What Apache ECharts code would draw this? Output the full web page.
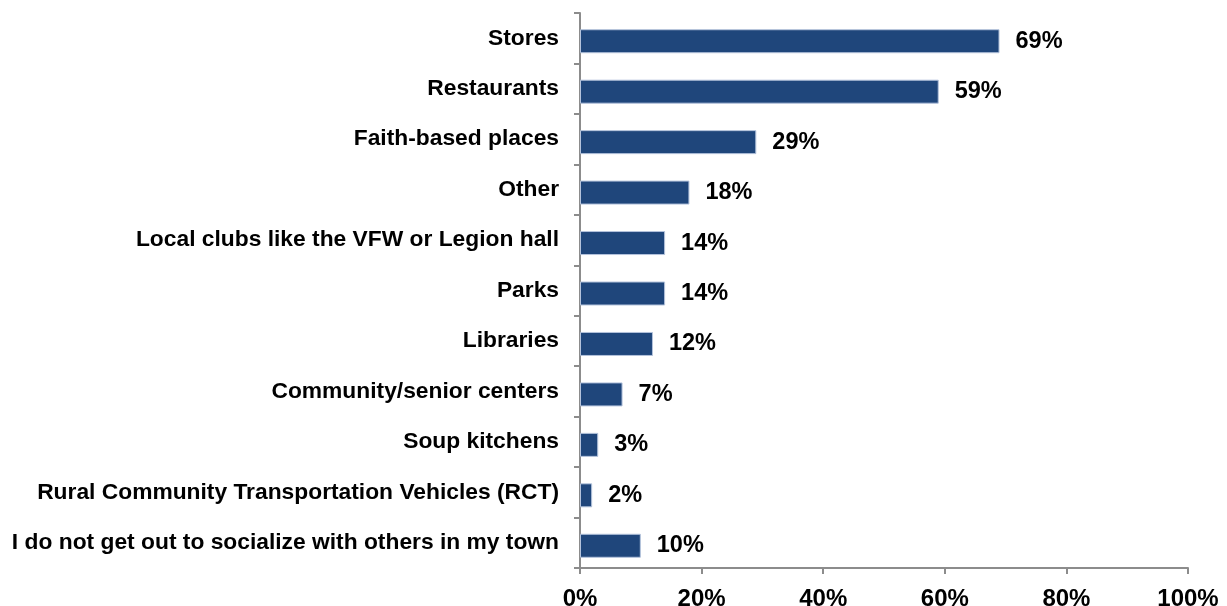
<!DOCTYPE html>
<html>
<head>
<meta charset="utf-8">
<script src="https://cdn.jsdelivr.net/npm/echarts@6/dist/echarts.min.js"></script>
<style>
  html, body { margin: 0; padding: 0; background: #fff; }
  #chart { width: 1227px; height: 606px; }
</style>
</head>
<body>
<div id="chart"></div>
<script>
// categories top to bottom
var categories = [
  'Stores',
  'Restaurants',
  'Faith-based places',
  'Other',
  'Local clubs like the VFW or Legion hall',
  'Parks',
  'Libraries',
  'Community/senior centers',
  'Soup kitchens',
  'Rural Community Transportation Vehicles (RCT)',
  'I do not get out to socialize with others in my town'
];
var percents = [69, 59, 29, 18, 14, 14, 12, 7, 3, 2, 10];
var xTicks = [0, 20, 40, 60, 80, 100];

var font = 'Arial, "Liberation Sans", sans-serif';
var axisGray = '#8c8c8c';

var myChart = echarts.init(document.getElementById('chart'));
var option = {
  animation: false,
  grid: {
    left: 580,
    right: 39,
    top: 13,
    bottom: 38,
    outerBoundsMode: 'none'
  },
  xAxis: {
    type: 'value',
    min: xTicks[0],
    max: xTicks[xTicks.length - 1],
    interval: xTicks[1] - xTicks[0],
    splitLine: { show: false },
    axisLine: { show: true, lineStyle: { color: axisGray, width: 2 } },
    axisTick: { show: true, length: 6, lineStyle: { color: axisGray, width: 2 } },
    axisLabel: {
      formatter: '{value}%',
      color: '#000',
      fontWeight: 'bold',
      fontSize: 24,
      fontFamily: font,
      margin: 19
    }
  },
  yAxis: {
    type: 'category',
    data: categories,
    inverse: true,
    axisLine: { show: true, lineStyle: { color: axisGray, width: 2 } },
    axisTick: { show: true, length: 6, lineStyle: { color: axisGray, width: 2 } },
    axisLabel: {
      color: '#000',
      fontWeight: 'bold',
      fontSize: 22.8,
      fontFamily: font,
      margin: 21,
      padding: [6, 0, 0, 0]
    }
  },
  series: [
    {
      // empty spacer so the bars sit a little below the band centre, as in the original
      type: 'bar',
      data: [],
      barWidth: 6,
      barGap: '0%'
    },
    {
      type: 'bar',
      data: percents,
      barWidth: 24,
      barGap: '0%',
      itemStyle: {
        color: '#1F467B',
        borderColor: '#b4c3dc',
        borderWidth: 1
      },
      label: {
        show: true,
        position: 'right',
        distance: 16,
        padding: [4, 0, 0, 0],
        formatter: '{c}%',
        color: '#000',
        fontWeight: 'bold',
        fontSize: 23.5,
        fontFamily: font
      }
    }
  ]
};
myChart.setOption(option);
</script>
</body>
</html>
